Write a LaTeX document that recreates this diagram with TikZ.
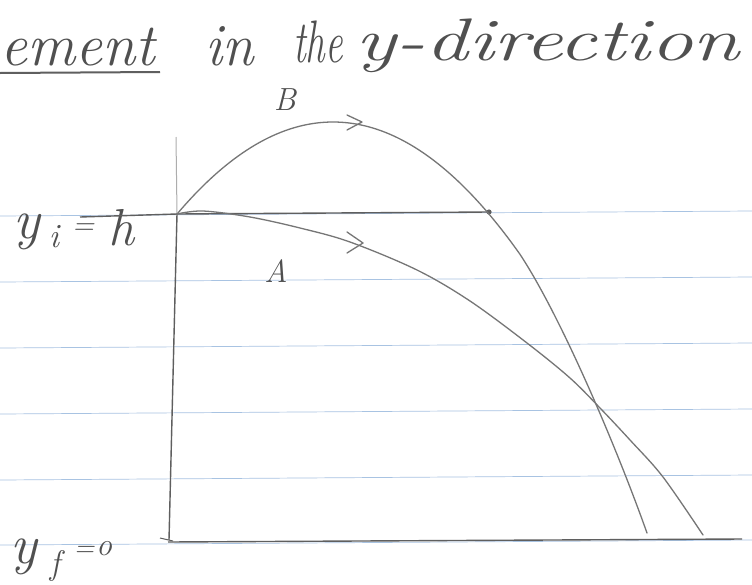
\documentclass[tikz,border=0pt]{standalone}
\usepackage{graphicx}
\begin{document}
\begin{tikzpicture}[x=1pt,y=-1pt,
  pencil/.style={draw=pencilgray,line width=1.3pt,line cap=round,line join=round},
  ruled/.style={draw=ruleblue,line width=0.7pt},
  hand/.style={text=inkgray,inner sep=0pt,font=\itshape}]
\definecolor{pencilgray}{RGB}{118,118,118}
\definecolor{axisgray}{RGB}{95,95,95}
\definecolor{inkgray}{RGB}{80,80,80}
\definecolor{ruleblue}{RGB}{168,195,226}
\useasboundingbox (0,0) rectangle (752,584);
\fill[white] (0,0) rectangle (752,584);
% ruled paper lines
\foreach \l/\r in {216/211,282/277,348/343,414/409,480/475,545/540}
  \draw[ruled] (0,\l) -- (752,\r);
% heading
\node[hand,anchor=base west] (w1) at (0,65) {\scalebox{1.0}[1]{\fontsize{60}{64}\selectfont ement}};
\draw[draw=axisgray,line width=2pt] (0,73) -- (160,72);
\node[hand,anchor=base west] (w2) at (205,65) {\scalebox{0.95}[1]{\fontsize{60}{64}\selectfont in}};
\node[hand,anchor=base west] (w3) at (293,62) {\scalebox{0.65}[1]{\fontsize{60}{64}\selectfont the}};
\node[hand,anchor=base west] (w4) at (355,60) {\scalebox{1.42}[1]{\fontsize{60}{64}\selectfont y-direction}};
% labels
\node[hand] (lb) at (285,100) {\fontsize{32}{34}\selectfont B};
\node[hand] (la) at (276,271) {\fontsize{32}{34}\selectfont A};
\node[hand,anchor=base] (yi) at (27,238) {\fontsize{56}{60}\selectfont y};
\node[hand,anchor=base] (yisub) at (54,247) {\fontsize{34}{36}\selectfont i};
\node[hand] (yieq) at (83,229) {\fontsize{30}{32}\selectfont =};
\node[hand,anchor=base] (yih) at (121,245) {\fontsize{52}{56}\selectfont h};
\node[hand,anchor=base] (yf) at (24,563) {\fontsize{56}{60}\selectfont y};
\node[hand,anchor=base] (yfsub) at (55,574) {\fontsize{34}{36}\selectfont f};
\node[hand] (yfeq) at (84,551) {\fontsize{28}{30}\selectfont =};
\node[hand] (yf0) at (104,549) {\fontsize{32}{34}\selectfont o};
% axes
\coordinate (axtop) at (176,137);
\coordinate (origin) at (177,214);
\coordinate (axbot) at (169,540);
\coordinate (gl) at (168,542);
\coordinate (gr) at (742,539);
\coordinate (hl) at (80,217);
\coordinate (hr) at (489,212);
\coordinate (bend) at (647,533);
\coordinate (aend) at (703,535);
\draw[draw=pencilgray!60,line width=1pt] (axtop) -- (origin);
\draw[draw=axisgray,line width=1.4pt] (origin) -- (axbot);
\draw[draw=axisgray,line width=1.4pt] (gl) -- (gr);
\draw[draw=axisgray,line width=1pt] (160,538) -- (173,541);
\draw[draw=axisgray,line width=1.4pt] (hl) -- (origin) -- (hr);
\fill[axisgray] (hr) circle (2.6);
% trajectory B
\draw[pencil] plot[domain=177:520,samples=80] (\x,{122+0.00378*(\x-333)*(\x-333)})
  .. controls (560,315) and (615,443) .. (bend);
% trajectory A
\draw[pencil] plot[smooth,tension=0.55] coordinates {(177,214) (203,211) (250,217) (300,228) (350,242) (417,270) (470,301) (527,343) (570,378) (600,408) (630,440) (663,477) (703,535)};
% chevrons
\draw[pencil] (347,115) -- (362,122) -- (347,130);
\draw[pencil] (347,232) -- (363,243) -- (347,253);
\end{tikzpicture}
\end{document}
